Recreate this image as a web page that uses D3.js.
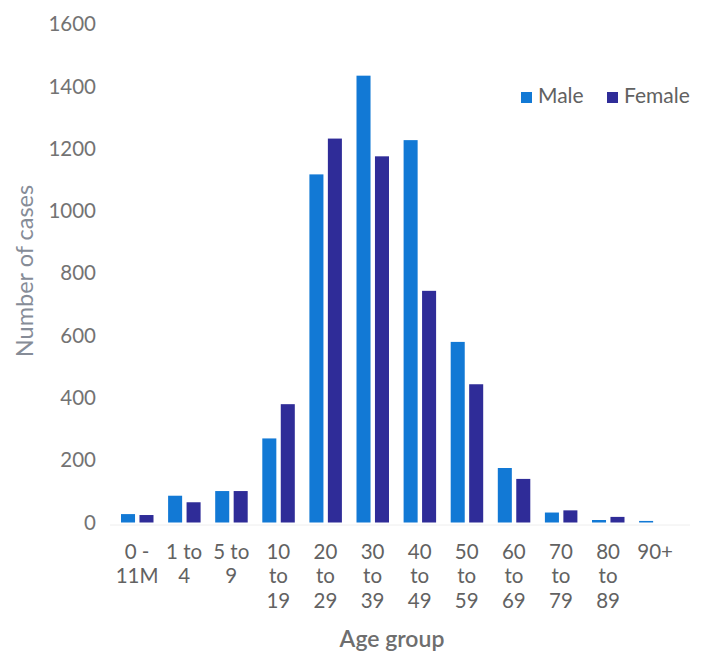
<!DOCTYPE html>
<html>
<head>
<meta charset="utf-8">
<script src="https://cdn.jsdelivr.net/npm/d3@7"></script>
<style>
  html, body { margin: 0; padding: 0; background: #ffffff; }
  svg { display: block; }
</style>
</head>
<body>
<svg id="chart" width="708" height="652"></svg>
<script>
// ---- data ----
const categories = ["0-11M", "1-4", "5-9", "10-19", "20-29", "30-39", "40-49", "50-59", "60-69", "70-79", "80-89", "90+"];
const categoryLabels = [
  ["0 -", "11M"], ["1 to", "4"], ["5 to", "9"], ["10", "to", "19"], ["20", "to", "29"],
  ["30", "to", "39"], ["40", "to", "49"], ["50", "to", "59"], ["60", "to", "69"],
  ["70", "to", "79"], ["80", "to", "89"], ["90+"]
];
const seriesNames = ["Male", "Female"];
const maleValues   = [27, 86, 101, 270, 1118, 1435, 1228, 580, 175, 32, 8, 5];
const femaleValues = [24, 65, 101, 380, 1233, 1176, 744, 444, 140, 39, 18, 0];
const yTicks = [0, 200, 400, 600, 800, 1000, 1200, 1400, 1600];
const colors = ["#1279d5", "#2f2c98"];

// ---- chart ----
const svg = d3.select("#chart");
const FONT = "Lato, 'Open Sans', sans-serif";

const x0 = d3.scaleBand().domain(categories).range([113.5, 678.7]).padding(0);
const x1 = d3.scaleBand().domain(seriesNames).range([7.5, 40]).paddingInner(0.24).paddingOuter(0);
const y = d3.scaleLinear().domain([0, 1600]).range([522.5, 24.3]);

// faint baseline
svg.append("line")
  .attr("x1", 110).attr("x2", 690)
  .attr("y1", y(0) + 2.5).attr("y2", y(0) + 2.5)
  .attr("stroke", "#eeeeee").attr("stroke-width", 1);

// y axis (labels only)
const yAxis = d3.axisLeft(y).tickValues(yTicks).tickSize(0).tickPadding(0).tickFormat(d3.format("d"));
const yg = svg.append("g").attr("transform", "translate(96,0)").call(yAxis);
yg.select(".domain").remove();
yg.selectAll("text")
  .attr("font-family", FONT).attr("font-size", 20.5).attr("fill", "#737373");

// bars
const data = categories.map((c, i) => ({ cat: c, values: [maleValues[i], femaleValues[i]] }));
const groups = svg.append("g").selectAll("g").data(data).join("g")
  .attr("transform", d => `translate(${x0(d.cat)},0)`);
groups.selectAll("rect")
  .data(d => d.values.map((v, j) => ({ key: seriesNames[j], value: v, j })))
  .join("rect")
  .attr("x", d => x1(d.key))
  .attr("width", x1.bandwidth())
  .attr("y", d => y(d.value))
  .attr("height", d => y(0) - y(d.value))
  .attr("fill", d => colors[d.j]);

// x axis labels (multi-line)
const xAxis = d3.axisBottom(x0).tickSize(0).tickFormat(() => "");
const xg = svg.append("g").attr("transform", `translate(0,${y(0)})`).call(xAxis);
xg.select(".domain").remove();
xg.selectAll(".tick").each(function(d, i) {
  const t = d3.select(this).select("text")
    .attr("font-family", FONT).attr("font-size", 20.5).attr("fill", "#626262")
    .attr("y", 0).attr("dy", null);
  categoryLabels[i].forEach((line, k) => {
    t.append("tspan").attr("x", 0).attr("y", 36 + k * 24.5).text(line);
  });
});

// axis titles
svg.append("text")
  .attr("x", 392).attr("y", 647)
  .attr("text-anchor", "middle")
  .attr("font-family", FONT).attr("font-size", 23).attr("font-weight", 600)
  .attr("fill", "#6e6e6e")
  .text("Age group");

svg.append("text")
  .attr("transform", "translate(33,271) rotate(-90)")
  .attr("text-anchor", "middle")
  .attr("font-family", FONT).attr("font-size", 23.5)
  .attr("fill", "#868c97")
  .text("Number of cases");

// legend
const legend = svg.append("g").attr("transform", "translate(521,0)");
const legendX = [0, 86];
seriesNames.forEach((name, i) => {
  const g = legend.append("g").attr("transform", `translate(${legendX[i]},0)`);
  g.append("rect").attr("x", 0).attr("y", 92).attr("width", 11).attr("height", 11).attr("fill", colors[i]);
  g.append("text").attr("x", 17).attr("y", 103)
    .attr("font-family", FONT).attr("font-size", 21).attr("fill", "#616161")
    .text(name);
});
</script>
</body>
</html>
